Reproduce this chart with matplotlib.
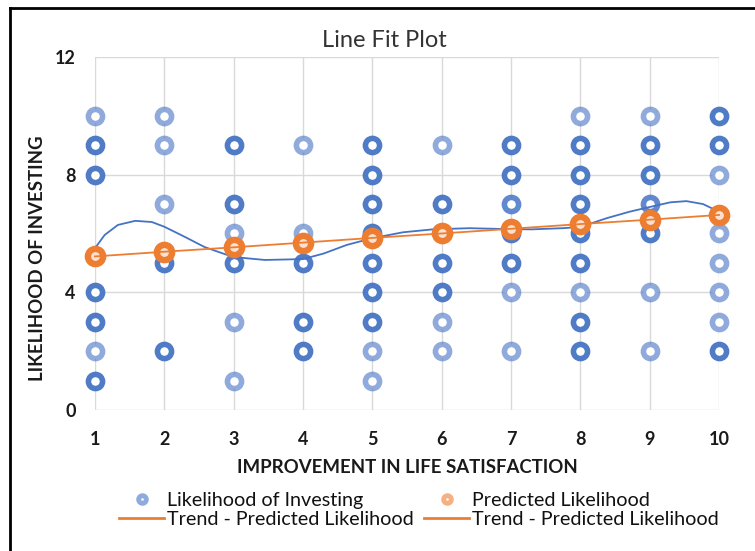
import numpy as np
import matplotlib
matplotlib.use('Agg')
import matplotlib.pyplot as plt
from matplotlib.lines import Line2D

plt.rcParams['font.family'] = ['Lato', 'DejaVu Sans']

# observed answers: x, y and how many responses sit on the same spot
obs_x = [1, 1, 1, 1, 1, 1, 1,
         2, 2, 2, 2, 2,
         3, 3, 3, 3, 3, 3,
         4, 4, 4, 4, 4,
         5, 5, 5, 5, 5, 5, 5, 5, 5,
         6, 6, 6, 6, 6, 6,
         7, 7, 7, 7, 7, 7, 7,
         8, 8, 8, 8, 8, 8, 8, 8, 8,
         9, 9, 9, 9, 9, 9, 9,
         10, 10, 10, 10, 10, 10, 10, 10]
obs_y = [10, 9, 8, 4, 3, 2, 1,
         10, 9, 7, 5, 2,
         9, 7, 6, 5, 3, 1,
         9, 6, 5, 3, 2,
         9, 8, 7, 6, 5, 4, 3, 2, 1,
         9, 7, 5, 4, 3, 2,
         9, 8, 7, 6, 5, 4, 2,
         10, 9, 8, 7, 6, 5, 4, 3, 2,
         10, 9, 8, 7, 6, 4, 2,
         10, 9, 8, 6, 5, 4, 3, 2]
obs_n = [1, 3, 3, 3, 3, 1, 3,
         1, 1, 1, 3, 3,
         3, 3, 1, 3, 1, 1,
         1, 1, 3, 3, 3,
         3, 3, 3, 3, 3, 3, 3, 1, 1,
         1, 3, 3, 3, 1, 1,
         3, 3, 2, 3, 3, 1, 1,
         1, 3, 3, 3, 3, 3, 1, 3, 3,
         1, 3, 3, 2, 3, 1, 1,
         3, 3, 1, 1, 1, 1, 1, 3]

pred_x = [1, 2, 3, 4, 5, 6, 7, 8, 9, 10]
pred_y = [5.22, 5.38, 5.53, 5.69, 5.85, 6.00, 6.16, 6.32, 6.47, 6.63]

# smooth blue curve
curve_x = [1.0, 1.14, 1.33, 1.58, 1.82, 2.0, 2.3, 2.58, 2.87, 3.0, 3.45, 4.0,
           4.3, 4.63, 5.0, 5.44, 5.87, 6.4, 6.94, 7.3, 7.74, 8.0, 8.38, 8.71,
           9.0, 9.3, 9.53, 9.77, 10.0]
curve_y = [5.5, 5.95, 6.29, 6.43, 6.39, 6.23, 5.88, 5.54, 5.3, 5.2, 5.1, 5.13,
           5.32, 5.61, 5.84, 6.04, 6.14, 6.18, 6.15, 6.14, 6.18, 6.22, 6.52, 6.74,
           6.9, 7.06, 7.1, 7.0, 6.74]

blue = '#4472C4'
orange = '#ED7D31'

fig = plt.figure(figsize=(7.55, 5.51), dpi=100)
ax = fig.add_axes([0.1258, 0.2559, 0.8265, 0.6407])

obs_x = np.array(obs_x)
obs_y = np.array(obs_y)
obs_n = np.array(obs_n)
for n in [1, 2, 3]:
    m = obs_n == n
    a = 1 - 0.4 ** n
    ax.plot(obs_x[m], obs_y[m], 'o', ms=10.2, mew=4.0, mec=matplotlib.colors.to_rgba(blue, a),
            mfc='white', ls='none', clip_on=False, zorder=3)

ax.plot(curve_x, curve_y, color=blue, lw=1.3, zorder=4, clip_on=False)
ax.plot(pred_x, pred_y, 'o', ms=11.0, mew=4.6, mec=orange, mfc='#FBE0CF',
        ls='none', clip_on=False, zorder=5)
ax.plot(pred_x, pred_y, color=orange, lw=1.3, zorder=6, clip_on=False)

ax.set_xlim(1, 10)
ax.set_ylim(0, 12)
ax.set_xticks(range(1, 11))
ax.set_yticks([0, 4, 8, 12])
ax.grid(True, color='#D9D9D9', lw=1)
ax.set_axisbelow(True)
for s in ax.spines.values():
    s.set_visible(False)
ax.tick_params(length=0, labelsize=13, labelcolor='#1a1a1a')
ax.tick_params(axis='y', pad=14)
ax.tick_params(axis='x', pad=15)
for lab in ax.get_xticklabels() + ax.get_yticklabels():
    lab.set_fontweight('bold')

fig.text(0.509, 0.927, 'Line Fit Plot', ha='center', va='center', fontsize=17, color='#333333')
fig.text(0.539, 0.151, 'IMPROVEMENT IN LIFE SATISFACTION', ha='center', va='center',
         fontsize=13.4, fontweight='bold', color='#1a1a1a')
fig.text(0.05, 0.532, 'LIKELIHOOD OF INVESTING', ha='center', va='center', rotation=90,
         fontsize=13.4, fontweight='bold', color='#1a1a1a')

handles = [
    Line2D([], [], marker='o', ls='none', ms=5.5, mew=3.5, mec='#8FAADC', mfc='white'),
    Line2D([], [], color=orange, lw=2),
    Line2D([], [], marker='o', ls='none', ms=5.5, mew=3.5, mec='#F4B183', mfc='white'),
    Line2D([], [], color=orange, lw=2),
]
labels = ['Likelihood of Investing', 'Trend - Predicted Likelihood',
          'Predicted Likelihood', 'Trend - Predicted Likelihood']
fig.legend(handles, labels, ncol=2, loc='center', bbox_to_anchor=(0.555, 0.074),
           frameon=False, fontsize=14.2, handlelength=2.3, handletextpad=0.15,
           columnspacing=0.5, labelspacing=0.1, borderpad=0, prop={'size': 14.2},
           labelcolor='#111111')

# outer frame, cut at right and bottom
fig.add_artist(Line2D([0.0135, 0.0135], [0.0, 0.985], color='black', lw=2))
fig.add_artist(Line2D([0.0135, 1.0], [0.985, 0.985], color='black', lw=2))

fig.savefig('out.png', dpi=100)
